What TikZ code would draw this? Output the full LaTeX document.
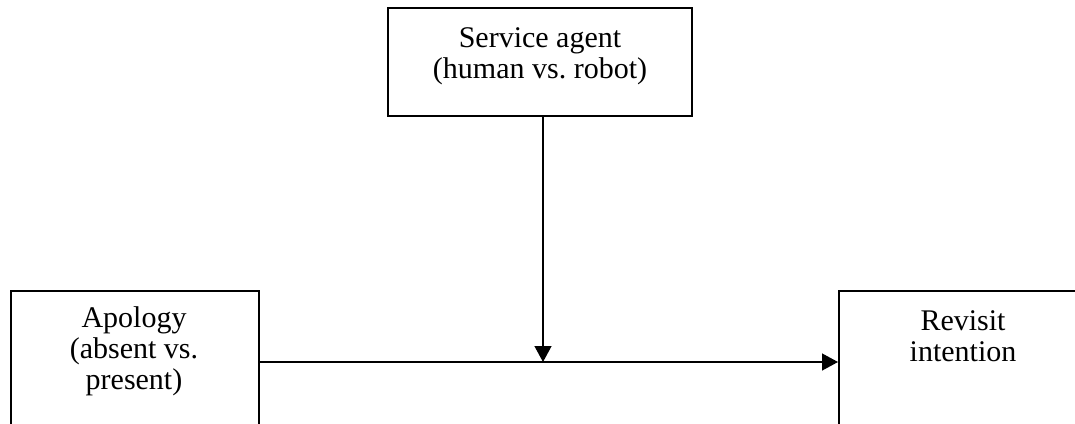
\documentclass[tikz,border=0pt]{standalone}
\usepackage{fontspec}
\setmainfont{Liberation Serif}
\usetikzlibrary{arrows.meta}
\newcommand{\tstrut}{\rule[-8pt]{0pt}{30pt}}
\begin{document}
\begin{tikzpicture}[x=1pt,y=-1pt,
  box/.style={draw, line width=2pt, inner sep=0pt},
  lbl/.style={anchor=north, inner sep=0pt, align=center, font=\fontsize{30}{29}\selectfont},
  conn/.style={line width=1.3pt, -{Triangle[length=16pt,width=17pt]}}]
\useasboundingbox (0,0) rectangle (1075,423);
\clip (0,0) rectangle (1075,423);
\node[box, minimum width=304pt, minimum height=108pt] (agent) at (540,62) {};
\node[box, minimum width=248pt, minimum height=200pt] (apology) at (135,391) {};
\node[box, minimum width=248pt, minimum height=200pt] (revisit) at (963,391) {};
\node[lbl] (agenttext) at (540,25) {Service agent\tstrut\\(human vs.\ robot)\tstrut};
\node[lbl] (apologytext) at (134,305) {Apology\tstrut\\(absent vs.\tstrut\\present)\tstrut};
\node[lbl] (revisittext) at (963,308) {Revisit\tstrut\\intention\tstrut};
\coordinate (mid) at (543,362);
\draw[conn] (agent.south -| mid) -- (mid);
\draw[conn] (apology.east |- mid) -- (revisit.west |- mid);
\end{tikzpicture}
\end{document}
